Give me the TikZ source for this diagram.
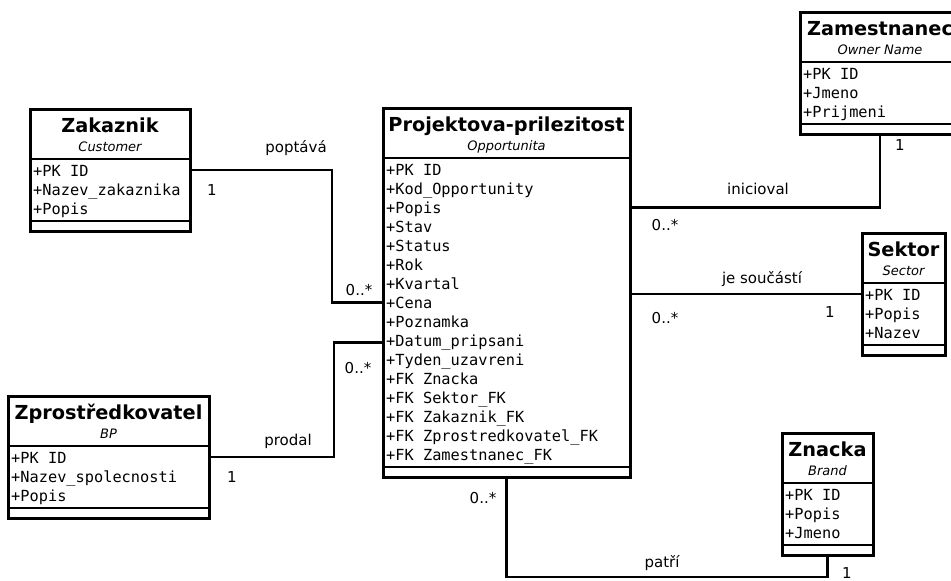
\documentclass[tikz,border=0pt]{standalone}
\usepackage{fontspec}
\setmainfont{DejaVu Sans}
\setmonofont{DejaVu Sans Mono}
\usetikzlibrary{calc}

\tikzset{
  trida/.style={draw, rectangle, line width=3pt, inner sep=0pt, outer sep=0pt, anchor=north west},
  oddel/.style={line width=2.4pt},
  vazba/.style={line width=2.2pt},
  nazev/.style={font=\fontsize{19.3}{22}\selectfont\bfseries, anchor=base, inner sep=0pt},
  podnazev/.style={font=\fontsize{13}{15}\selectfont\itshape, anchor=base, inner sep=0pt},
  atribut/.style={font=\fontsize{15.3}{19}\selectfont\ttfamily, anchor=base west, inner sep=0pt},
  popisek/.style={font=\fontsize{15}{18}\selectfont, anchor=base, inner sep=0pt}
}

\begin{document}
\begin{tikzpicture}[x=1pt, y=-1pt]
    \useasboundingbox (0,0) rectangle (951,581);

    % Trida Zakaznik
    \node[trida, minimum width=160pt, minimum height=122pt] (zak) at (30,109) {};
    \draw[oddel] ($(zak.north west)+(0,50)$) -- ($(zak.north east)+(0,50)$);
    \draw[oddel] ($(zak.south west)+(0,-10)$) -- ($(zak.south east)+(0,-10)$);
    \node[nazev] (zak-n) at ($(zak.north)+(0,23)$) {Zakaznik};
    \node[podnazev] (zak-p) at ($(zak.north)+(0,42)$) {Customer};
    \foreach \a [count=\i from 0] in {+PK ID,+Nazev\_zakaznika,+Popis}
        \node[atribut] (zak-a\i) at ($(zak.north west)+(3,{67+19*\i})$) {\a};

    % Trida Projektova-prilezitost
    \node[trida, minimum width=247pt, minimum height=369pt] (pp) at (383,108) {};
    \draw[oddel] ($(pp.north west)+(0,50)$) -- ($(pp.north east)+(0,50)$);
    \draw[oddel] ($(pp.south west)+(0,-10)$) -- ($(pp.south east)+(0,-10)$);
    \node[nazev] (pp-n) at ($(pp.north)+(0,23)$) {Projektova-prilezitost};
    \node[podnazev] (pp-p) at ($(pp.north)+(0,42)$) {Opportunita};
    \foreach \a [count=\i from 0] in {+PK ID,+Kod\_Opportunity,+Popis,+Stav,+Status,+Rok,+Kvartal,+Cena,+Poznamka,+Datum\_pripsani,+Tyden\_uzavreni,+FK Znacka,+FK Sektor\_FK,+FK Zakaznik\_FK,+FK Zprostredkovatel\_FK,+FK Zamestnanec\_FK}
        \node[atribut] (pp-a\i) at ($(pp.north west)+(3,{67+19*\i})$) {\a};

    % Trida Zamestnanec (presahuje okraj)
    \node[trida, minimum width=160pt, minimum height=122pt] (zam) at (800,12) {};
    \draw[oddel] ($(zam.north west)+(0,50)$) -- ($(zam.north east)+(0,50)$);
    \draw[oddel] ($(zam.south west)+(0,-10)$) -- ($(zam.south east)+(0,-10)$);
    \node[nazev] (zam-n) at ($(zam.north)+(0,23)$) {Zamestnanec};
    \node[podnazev] (zam-p) at ($(zam.north)+(0,42)$) {Owner Name};
    \foreach \a [count=\i from 0] in {+PK ID,+Jmeno,+Prijmeni}
        \node[atribut] (zam-a\i) at ($(zam.north west)+(3,{67+19*\i})$) {\a};

    % Trida Sektor
    \node[trida, minimum width=83pt, minimum height=122pt] (sek) at (862,233) {};
    \draw[oddel] ($(sek.north west)+(0,50)$) -- ($(sek.north east)+(0,50)$);
    \draw[oddel] ($(sek.south west)+(0,-10)$) -- ($(sek.south east)+(0,-10)$);
    \node[nazev] (sek-n) at ($(sek.north)+(0,23)$) {Sektor};
    \node[podnazev] (sek-p) at ($(sek.north)+(0,42)$) {Sector};
    \foreach \a [count=\i from 0] in {+PK ID,+Popis,+Nazev}
        \node[atribut] (sek-a\i) at ($(sek.north west)+(3,{67+19*\i})$) {\a};

    % Trida Zprostredkovatel
    \node[trida, minimum width=201pt, minimum height=122pt] (zpr) at (8,396) {};
    \draw[oddel] ($(zpr.north west)+(0,50)$) -- ($(zpr.north east)+(0,50)$);
    \draw[oddel] ($(zpr.south west)+(0,-10)$) -- ($(zpr.south east)+(0,-10)$);
    \node[nazev] (zpr-n) at ($(zpr.north)+(0,23)$) {Zprostředkovatel};
    \node[podnazev] (zpr-p) at ($(zpr.north)+(0,42)$) {BP};
    \foreach \a [count=\i from 0] in {+PK ID,+Nazev\_spolecnosti,+Popis}
        \node[atribut] (zpr-a\i) at ($(zpr.north west)+(3,{67+19*\i})$) {\a};

    % Trida Znacka
    \node[trida, minimum width=91pt, minimum height=122pt] (zn) at (782,433) {};
    \draw[oddel] ($(zn.north west)+(0,50)$) -- ($(zn.north east)+(0,50)$);
    \draw[oddel] ($(zn.south west)+(0,-10)$) -- ($(zn.south east)+(0,-10)$);
    \node[nazev] (zn-n) at ($(zn.north)+(0,23)$) {Znacka};
    \node[podnazev] (zn-p) at ($(zn.north)+(0,42)$) {Brand};
    \foreach \a [count=\i from 0] in {+PK ID,+Popis,+Jmeno}
        \node[atribut] (zn-a\i) at ($(zn.north west)+(3,{67+19*\i})$) {\a};

    % Vazby
    \draw[vazba] (zak.east) -| ($(pp.west)+(-51,10)$) -- ($(pp.west)+(0,10)$);
    \draw[vazba] (zpr.east) -| ($(pp.west)+(-49,50)$) -- ($(pp.west)+(0,50)$);
    \draw[vazba] (zam.south) |- ($(pp.east)+(0,-85)$);
    \draw[vazba] (sek.west) -- (sek.west -| pp.east);
    \draw[vazba] (pp.south) -- ++(0,100) -| (zn.south);

    % Popisky vazeb
    \node[popisek] (poptava) at (296,152) {poptává};
    \node[popisek] (m-zak) at (212,195) {1};
    \node[popisek] (m-pp1) at (359,295) {0..*};
    \node[popisek] (prodal) at (288,445) {prodal};
    \node[popisek] (m-zpr) at (232,482) {1};
    \node[popisek] (m-pp2) at (358,373) {0..*};
    \node[popisek] (inicioval) at (758,194) {inicioval};
    \node[popisek] (m-zam) at (900,150) {1};
    \node[popisek] (m-pp3) at (665,230) {0..*};
    \node[popisek] (soucasti) at (762,283) {je součástí};
    \node[popisek] (m-sek) at (830,317) {1};
    \node[popisek] (m-pp4) at (665,323) {0..*};
    \node[popisek] (patri) at (662,567) {patří};
    \node[popisek] (m-zn) at (847,578) {1};
    \node[popisek] (m-pp5) at (483,503) {0..*};

\end{tikzpicture}
\end{document}
